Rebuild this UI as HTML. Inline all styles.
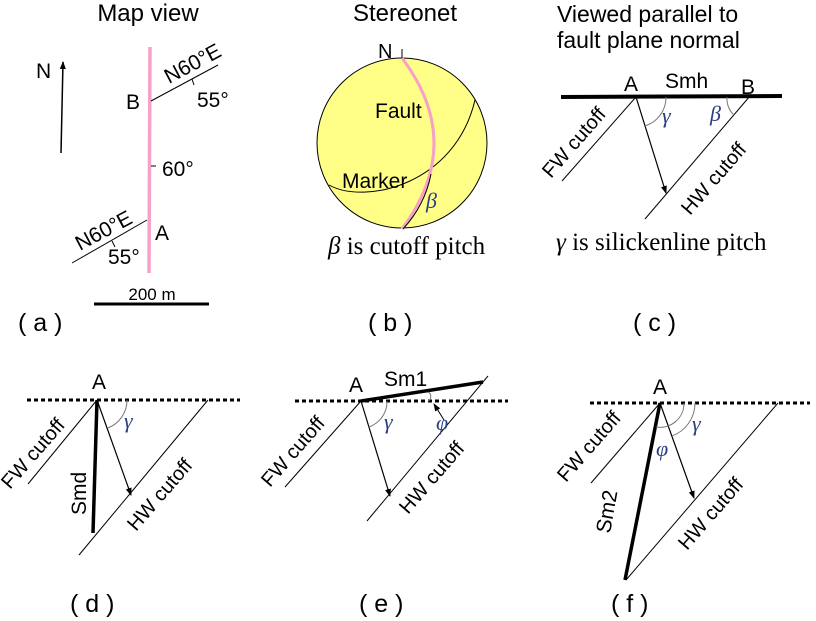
<!DOCTYPE html>
<html><head><meta charset="utf-8"><style>
html,body{margin:0;padding:0;background:#fff}
svg{display:block}
text{font-family:"Liberation Sans",sans-serif;fill:#000}
.s{font-family:"Liberation Serif",serif}
.g{font-family:"Liberation Serif",serif;font-style:italic;fill:#2a3f80}
</style></head><body>
<svg width="816" height="621" viewBox="0 0 816 621" xmlns="http://www.w3.org/2000/svg">
<defs><marker id="ar" markerWidth="8" markerHeight="8" refX="7" refY="4" orient="auto" markerUnits="userSpaceOnUse"><path d="M0,1 L8,4 L0,7 Z" fill="#000"/></marker></defs>

<!-- (a) -->
<text x="148" y="21" font-size="24" text-anchor="middle">Map view</text>
<line x1="61" y1="153" x2="63" y2="62" stroke="#000" stroke-width="1.5" marker-end="url(#ar)"/>
<text x="36" y="78" font-size="21">N</text>
<line x1="150" y1="47" x2="149" y2="273" stroke="#f8a0c8" stroke-width="3.5"/>
<line x1="151" y1="101" x2="218" y2="65" stroke="#000" stroke-width="1"/>
<line x1="192" y1="79" x2="194" y2="85" stroke="#000" stroke-width="1"/>
<text transform="translate(169,84) rotate(-28)" font-size="21">N60°E</text>
<text x="197" y="107" font-size="21">55°</text>
<text x="126" y="109" font-size="21">B</text>
<line x1="151" y1="166" x2="156" y2="166" stroke="#000" stroke-width="1"/>
<text x="162" y="176" font-size="21">60°</text>
<line x1="72" y1="263" x2="147" y2="220" stroke="#000" stroke-width="1"/>
<line x1="112" y1="241" x2="115" y2="247" stroke="#000" stroke-width="1"/>
<text transform="translate(80,251) rotate(-28)" font-size="21">N60°E</text>
<text x="108" y="264" font-size="21">55°</text>
<text x="155" y="240" font-size="21">A</text>
<line x1="94" y1="304" x2="209" y2="304" stroke="#000" stroke-width="3"/>
<text x="152" y="300" font-size="17" text-anchor="middle">200 m</text>
<text x="18" y="331" font-size="25">( a )</text>

<!-- (b) -->
<text x="405" y="21" font-size="24" text-anchor="middle">Stereonet</text>
<circle cx="402" cy="143" r="85" fill="#ffff88" stroke="#000" stroke-width="1"/>
<path d="M329,185 C365,205 455,185 475,100" fill="none" stroke="#000" stroke-width="1"/>
<path d="M402,58 Q466,143 402,229" fill="none" stroke="#f8a0c8" stroke-width="3"/>
<path d="M431,174 Q425,205 403,229" fill="none" stroke="#000" stroke-width="1"/>
<line x1="402" y1="49" x2="402" y2="58" stroke="#000" stroke-width="1"/>
<text x="378" y="58" font-size="20">N</text>
<text x="375" y="118" font-size="21">Fault</text>
<text x="342" y="188" font-size="21">Marker</text>
<text x="426" y="208" font-size="22" class="g">β</text>
<text x="328" y="254" font-size="25" class="s"><tspan font-style="italic">β</tspan> is cutoff pitch</text>
<text x="368" y="331" font-size="25">( b )</text>

<!-- (c) -->
<text x="557" y="22" font-size="23">Viewed parallel to</text>
<text x="557" y="48" font-size="23">fault plane normal</text>
<line x1="561" y1="97" x2="782" y2="96" stroke="#000" stroke-width="4"/>
<text x="624" y="91" font-size="21">A</text>
<text x="665" y="88" font-size="21">Smh</text>
<text x="741" y="94" font-size="21">B</text>
<line x1="636" y1="97" x2="562" y2="181" stroke="#000" stroke-width="1"/>
<text transform="translate(551,179) rotate(-49)" font-size="20">FW cutoff</text>
<line x1="636" y1="97" x2="666" y2="193" stroke="#000" stroke-width="1.2" marker-end="url(#ar)"/>
<line x1="750" y1="96" x2="645" y2="219" stroke="#000" stroke-width="1"/>
<text transform="translate(690,216) rotate(-49)" font-size="20">HW cutoff</text>
<path d="M666,97 A30,30 0 0 1 645,126" fill="none" stroke="#777" stroke-width="1"/>
<text x="662" y="123" font-size="22" class="g">γ</text>
<path d="M727,97 A23,23 0 0 0 734,115" fill="none" stroke="#777" stroke-width="1"/>
<text x="710" y="121" font-size="22" class="g">β</text>
<text x="556" y="250" font-size="25" class="s"><tspan font-style="italic">γ</tspan> is silickenline pitch</text>
<text x="633" y="331" font-size="25">( c )</text>

<!-- (d) -->
<text x="92" y="389" font-size="21">A</text>
<line x1="27" y1="400" x2="240" y2="400" stroke="#000" stroke-width="3" stroke-dasharray="4,3"/>
<line x1="97" y1="400" x2="28" y2="484" stroke="#000" stroke-width="1"/>
<text transform="translate(10,490) rotate(-49)" font-size="20">FW cutoff</text>
<line x1="97" y1="400" x2="93" y2="533" stroke="#000" stroke-width="3.5"/>
<text transform="translate(86,515) rotate(-90)" font-size="21">Smd</text>
<line x1="97" y1="400" x2="131" y2="495" stroke="#000" stroke-width="1.2" marker-end="url(#ar)"/>
<line x1="208" y1="400" x2="79" y2="555" stroke="#000" stroke-width="1"/>
<text transform="translate(136,532) rotate(-49)" font-size="20">HW cutoff</text>
<path d="M127,400 A30,30 0 0 1 108,428" fill="none" stroke="#777" stroke-width="1"/>
<text x="124" y="428" font-size="22" class="g">γ</text>
<text x="70" y="612" font-size="25">( d )</text>

<!-- (e) -->
<text x="349" y="392" font-size="21">A</text>
<line x1="295" y1="401" x2="508" y2="401" stroke="#000" stroke-width="3" stroke-dasharray="4,3"/>
<line x1="361" y1="401" x2="483" y2="382" stroke="#000" stroke-width="3.5"/>
<text x="384" y="386" font-size="21">Sm1</text>
<line x1="361" y1="401" x2="285" y2="487" stroke="#000" stroke-width="1"/>
<text transform="translate(270,488) rotate(-49)" font-size="20">FW cutoff</text>
<line x1="361" y1="401" x2="390" y2="496" stroke="#000" stroke-width="1.2" marker-end="url(#ar)"/>
<line x1="488" y1="376" x2="367" y2="521" stroke="#000" stroke-width="1"/>
<text transform="translate(408,515) rotate(-49)" font-size="20">HW cutoff</text>
<path d="M387,401 A27,27 0 0 1 369,427" fill="none" stroke="#777" stroke-width="1"/>
<text x="384" y="429" font-size="22" class="g">γ</text>
<path d="M428,401 A5,5 0 0 0 428,392" fill="none" stroke="#777" stroke-width="1"/>
<line x1="444" y1="420" x2="434" y2="404" stroke="#000" stroke-width="1" marker-end="url(#ar)"/>
<text x="436" y="430" font-size="22" class="g">φ</text>
<text x="359" y="612" font-size="25">( e )</text>

<!-- (f) -->
<text x="653" y="394" font-size="21">A</text>
<line x1="590" y1="403" x2="810" y2="403" stroke="#000" stroke-width="3" stroke-dasharray="4,3"/>
<line x1="660" y1="403" x2="591" y2="483" stroke="#000" stroke-width="1"/>
<text transform="translate(566,483) rotate(-49)" font-size="20">FW cutoff</text>
<line x1="660" y1="403" x2="625" y2="580" stroke="#000" stroke-width="3.5"/>
<text transform="translate(610,534) rotate(-80)" font-size="21">Sm2</text>
<line x1="660" y1="403" x2="694" y2="498" stroke="#000" stroke-width="1.2" marker-end="url(#ar)"/>
<line x1="778" y1="403" x2="626" y2="580" stroke="#000" stroke-width="1"/>
<text transform="translate(687,551) rotate(-49)" font-size="20">HW cutoff</text>
<path d="M684,403 A24,24 0 0 1 656,427" fill="none" stroke="#777" stroke-width="1"/>
<path d="M695,403 A35,35 0 0 1 672,436" fill="none" stroke="#777" stroke-width="1"/>
<text x="656" y="456" font-size="22" class="g">φ</text>
<text x="692" y="431" font-size="22" class="g">γ</text>
<text x="611" y="612" font-size="25">( f )</text>
</svg>
</body></html>
